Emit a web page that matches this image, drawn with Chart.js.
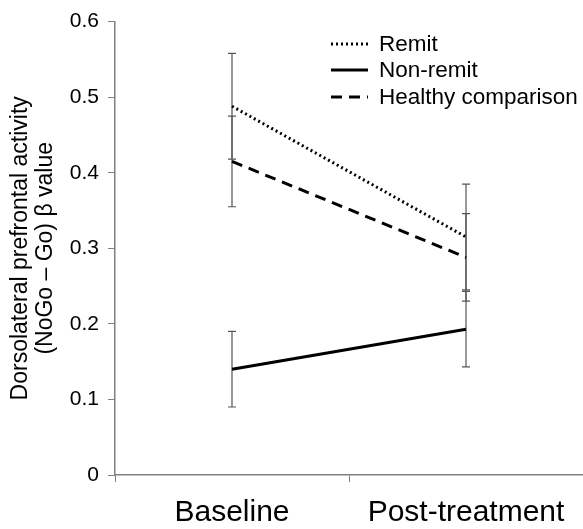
<!DOCTYPE html>
<html lang="en">
<head>
    <title>Dorsolateral prefrontal activity</title>
    <script src="https://cdn.jsdelivr.net/npm/chart.js"></script>
    <style>
        body {
            margin: 0;
            background: white;
        }
        .chart-container {
            position: relative;
            width: 583px;
            height: 529px;
        }
    </style>
</head>
<body>
    <div class="chart-container">
        <canvas id="dlpfcChart"></canvas>
    </div>

    <script>
        const categories = ['Baseline', 'Post-treatment'];
        const remit = [0.488, 0.315];
        const remitErr = [0.07, 0.07];
        const nonRemit = [0.14, 0.193];
        const nonRemitErr = [0.05, 0.05];
        const healthy = [0.415, 0.288];
        const healthyErr = [0.06, 0.058];
        const yTicks = [0, 0.1, 0.2, 0.3, 0.4, 0.5, 0.6];

        const axisGray = '#808080';
        const fontFamily = "'Liberation Sans', Arial, Helvetica, sans-serif";

        // error bars drawn under the lines, from each dataset's err array
        const errorBars = {
            id: 'errorBars',
            beforeDatasetsDraw(chart) {
                const ctx = chart.ctx;
                const xs = chart.scales.x, ys = chart.scales.y;
                ctx.save();
                ctx.strokeStyle = '#555';
                ctx.lineWidth = 1.2;
                chart.data.datasets.forEach(ds => {
                    ds.data.forEach((v, i) => {
                        const x = xs.getPixelForValue(i);
                        const hi = ys.getPixelForValue(v + ds.err[i]);
                        const lo = ys.getPixelForValue(v - ds.err[i]);
                        ctx.beginPath();
                        ctx.moveTo(x, hi); ctx.lineTo(x, lo);
                        ctx.moveTo(x - 4, hi); ctx.lineTo(x + 4, hi);
                        ctx.moveTo(x - 4, lo); ctx.lineTo(x + 4, lo);
                        ctx.stroke();
                    });
                });
                ctx.restore();
            }
        };

        // legend in the upper right, line samples use the dataset styles
        const lineLegend = {
            id: 'lineLegend',
            afterDraw(chart) {
                const ctx = chart.ctx;
                const rows = [44, 70, 97];
                ctx.save();
                ctx.font = '22.5px ' + fontFamily;
                ctx.textBaseline = 'middle';
                ctx.fillStyle = '#000';
                chart.data.datasets.forEach((ds, i) => {
                    const y = rows[i];
                    ctx.strokeStyle = ds.borderColor;
                    ctx.lineWidth = ds.borderWidth;
                    ctx.setLineDash(ds.borderDash || []);
                    ctx.beginPath();
                    ctx.moveTo(331, y);
                    ctx.lineTo(368, y);
                    ctx.stroke();
                    ctx.fillText(ds.label, 379, y + 1);
                });
                ctx.restore();
            }
        };

        new Chart(document.getElementById('dlpfcChart'), {
            type: 'line',
            data: {
                labels: categories,
                datasets: [
                    {
                        label: 'Remit',
                        data: remit,
                        err: remitErr,
                        borderColor: '#000',
                        borderWidth: 3,
                        borderDash: [2, 3]
                    },
                    {
                        label: 'Non-remit',
                        data: nonRemit,
                        err: nonRemitErr,
                        borderColor: '#000',
                        borderWidth: 3
                    },
                    {
                        label: 'Healthy comparison',
                        data: healthy,
                        err: healthyErr,
                        borderColor: '#000',
                        borderWidth: 3,
                        borderDash: [11, 7]
                    }
                ]
            },
            options: {
                responsive: true,
                maintainAspectRatio: false,
                animation: false,
                elements: {
                    point: { radius: 0 },
                    line: { tension: 0 }
                },
                layout: {
                    padding: { top: 15, right: 0, bottom: 0, left: 0 }
                },
                plugins: {
                    legend: { display: false },
                    tooltip: { enabled: false }
                },
                scales: {
                    x: {
                        offset: true,
                        afterFit(scale) { scale.height = 54; },
                        grid: {
                            offset: true,
                            drawOnChartArea: false,
                            tickLength: 7,
                            color: axisGray
                        },
                        border: { color: axisGray, width: 1.5 },
                        ticks: {
                            color: '#000',
                            padding: 13,
                            font: { family: fontFamily, size: 30 }
                        }
                    },
                    y: {
                        min: 0,
                        max: 0.6,
                        afterFit(scale) { scale.width = 115; },
                        afterBuildTicks(scale) {
                            scale.ticks = yTicks.map(v => ({ value: v }));
                        },
                        grid: {
                            drawOnChartArea: false,
                            tickLength: 7,
                            color: axisGray
                        },
                        border: { color: axisGray, width: 1.5 },
                        ticks: {
                            color: '#000',
                            padding: 9,
                            font: { family: fontFamily, size: 21 },
                            callback: v => String(Math.round(v * 10) / 10)
                        },
                        title: {
                            display: true,
                            text: ['Dorsolateral prefrontal activity', '(NoGo \u2013 Go) \u03b2 value'],
                            color: '#000',
                            padding: { top: 8, bottom: 0 },
                            font: { family: fontFamily, size: 23, lineHeight: 1.1 }
                        }
                    }
                }
            },
            plugins: [errorBars, lineLegend]
        });
    </script>
</body>
</html>
